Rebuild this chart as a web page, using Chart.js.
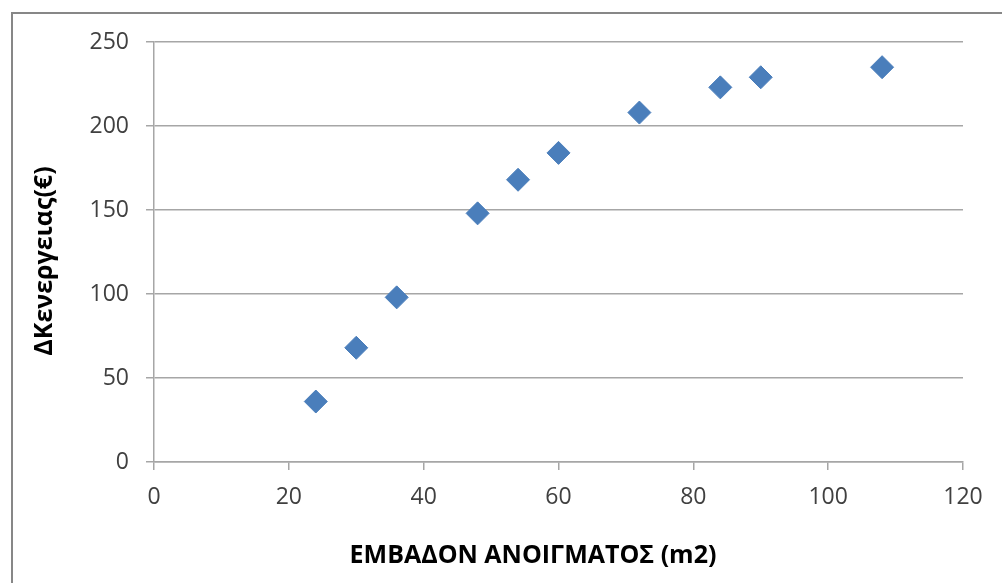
<!DOCTYPE html>
<html>
<head>
<meta charset="utf-8">
<script src="https://cdn.jsdelivr.net/npm/chart.js@4"></script>
<style>
  html, body { margin: 0; padding: 0; background: #fff; }
  #wrap { width: 1002px; height: 583px; position: relative; }
</style>
</head>
<body>
<div id="wrap"><canvas id="chart"></canvas></div>
<script>
const areaM2 = [24, 30, 36, 48, 54, 60, 72, 84, 90, 108];
const deltaEnergy = [36, 68, 98, 148, 168, 184, 208, 223, 229, 235];
const xTitle = "ΕΜΒΑΔΟΝ ΑΝΟΙΓΜΑΤΟΣ (m2)";
const yTitle = "ΔΚενεργειας(€)";

const FONT = "'Open Sans', 'Liberation Sans', sans-serif";
const GRID = "#a6a6a6";
const TICK_TEXT = "#404040";

// outer frame of the chart object (cut off at right and bottom)
const framePlugin = {
    id: "frame",
    beforeDraw(chart) {
        const ctx = chart.ctx;
        ctx.save();
        ctx.fillStyle = "#fff";
        ctx.fillRect(0, 0, chart.width, chart.height);
        ctx.strokeStyle = "#878787";
        ctx.lineWidth = 2;
        ctx.strokeRect(12, 13, chart.width + 20, chart.height + 20);
        ctx.restore();
    }
};

// axis titles: Excel centres them a bit off the plot area, so place them by hand
const titlesPlugin = {
    id: "axisTitles",
    afterDraw(chart) {
        const ctx = chart.ctx;
        ctx.save();
        ctx.fillStyle = "#000";
        ctx.font = "bold 25px " + FONT;
        ctx.textAlign = "center";
        ctx.textBaseline = "middle";
        ctx.fillText(xTitle, 533, 556);
        ctx.translate(45, 261);
        ctx.rotate(-Math.PI / 2);
        ctx.fillText(yTitle, 0, 0);
        ctx.restore();
    }
};

new Chart(document.getElementById("chart"), {
    type: "scatter",
    data: {
        datasets: [{
            data: areaM2.map((x, i) => ({x, y: deltaEnergy[i]})),
            pointStyle: "rectRot",
            pointRadius: 11.5,
            pointHoverRadius: 11.5,
            backgroundColor: "#4a7ebb",
            borderColor: "#4a7ebb",
            borderWidth: 1
        }]
    },
    options: {
        responsive: true,
        maintainAspectRatio: false,
        animation: false,
        layout: {padding: {left: 22, right: 39, top: 42, bottom: 15}},
        plugins: {legend: {display: false}, tooltip: {enabled: false}},
        scales: {
            x: {
                type: "linear",
                min: 0,
                max: 120,
                ticks: {stepSize: 20, color: TICK_TEXT, font: {family: FONT, size: 23}, padding: 14, maxRotation: 0},
                grid: {drawOnChartArea: false, color: GRID, tickLength: 8, lineWidth: 1.5},
                border: {color: GRID, width: 1.5},
                afterFit(scale) { scale.height = 106; }
            },
            y: {
                min: 0,
                max: 250,
                ticks: {stepSize: 50, color: TICK_TEXT, font: {family: FONT, size: 23}, padding: 17},
                grid: {color: GRID, tickLength: 8, lineWidth: 1.5},
                border: {color: GRID, width: 1.5},
                afterFit(scale) { scale.width = 132; }
            }
        }
    },
    plugins: [framePlugin, titlesPlugin]
});
</script>
</body>
</html>
